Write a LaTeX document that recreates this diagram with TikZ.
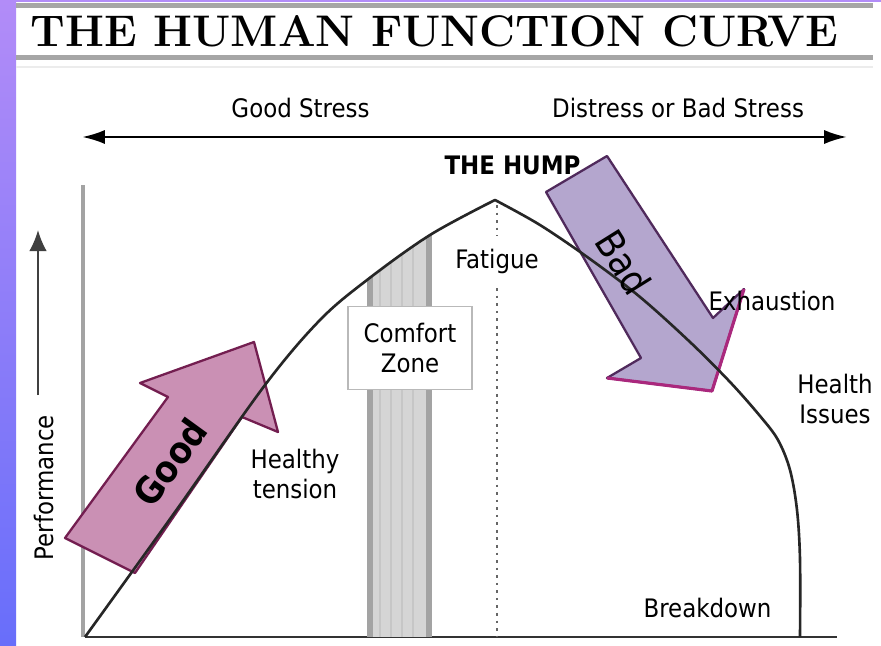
\documentclass[tikz,border=0pt]{standalone}
\usepackage{fontspec}
\newfontfamily\labelfont{DejaVu Sans Condensed}
\usetikzlibrary{arrows.meta}

\definecolor{sidetop}{RGB}{178,140,248}
\definecolor{sidebot}{RGB}{104,110,250}
\definecolor{goodpink}{RGB}{202,144,180}
\definecolor{goodedge}{RGB}{115,30,80}
\definecolor{badlilac}{RGB}{180,166,206}
\definecolor{badedge}{RGB}{80,42,92}
\definecolor{badrim}{RGB}{170,40,125}

\begin{document}
\begin{tikzpicture}[x=0.02cm, y=-0.02cm,
    lbl/.style={font=\labelfont\fontsize{14.5}{17.5}\selectfont, align=center, inner sep=0pt},
    whitebox/.style={lbl, fill=white},
    bigword/.style={font=\labelfont\bfseries\fontsize{21}{24}\selectfont, inner sep=0pt}]
    \useasboundingbox (0,0) rectangle (881,645);
    % Frame and title
    \fill[white] (0,0) rectangle (881,645);
    \shade[top color=sidetop, bottom color=sidebot] (0,0) rectangle (16,645);
    \fill[sidetop] (0,0) rectangle (881,2);
    \draw[gray!70, line width=2.4pt] (16,5.5) -- (873,5.5);
    \draw[gray!70, line width=3pt] (16,57.5) -- (873,57.5);
    \draw[gray!15, line width=0.6pt] (16,67) -- (873,67);
    \node[font=\bfseries\fontsize{25.2}{28}\selectfont\addfontfeature{FakeBold=4}] (title) at (434.5,31) {THE HUMAN FUNCTION CURVE};

    % Stress scale
    \coordinate (stressL) at (82,137);
    \coordinate (stressR) at (847,137);
    \draw[line width=1.4pt, {Latex[length=13pt,width=8pt]}-{Latex[length=13pt,width=8pt]}] (stressL) -- (stressR);
    \node[lbl, anchor=base] (goodstress) at (300.5,118) {Good Stress};
    \node[lbl, anchor=base] (badstress) at (678,118) {Distress or Bad Stress};

    % Axes
    \coordinate (origin) at (85,637);
    \coordinate (ybot) at (83,637);
    \coordinate (ytop) at (83,185);
    \coordinate (xend) at (837,637);
    \draw[gray!72, line width=2pt] (ybot) -- (ytop);
    \draw[black!80, line width=1.4pt] (origin) -- (xend);
    \coordinate (perfB) at (38,395);
    \coordinate (perfT) at (38,230);
    \draw[black!75, line width=1.1pt, -{Latex[length=12pt,width=10pt]}] (perfB) -- (perfT);
    \node[lbl, rotate=90, anchor=base] (perf) at (53,487.5) {Performance};

    % Comfort zone bar
    \begin{scope}
        \clip (367,637) -- (367,280) -- (432,233) -- (432,637) -- cycle;
        \fill[gray!33] (367,200) rectangle (432,637);
        \foreach \x in {380,391,402,413}
            \draw[gray!45, line width=0.8pt] (\x,200) -- (\x,637);
        \draw[gray!72, line width=3.4pt] (370,200) -- (370,637);
        \draw[gray!72, line width=3.4pt] (429,200) -- (429,637);
    \end{scope}

    % Peak line
    \coordinate (peaktop) at (497,205);
    \coordinate (peakfoot) at (497,637);
    \draw[black!60, line width=1.5pt, dash pattern=on 1.5pt off 2.8pt] (peaktop) -- (peakfoot);

    % Boxed labels
    \node[whitebox, minimum width=2.3cm, minimum height=1cm] (fatigue) at (497,261) {Fatigue};
    \node[whitebox, draw=gray!55, line width=0.9pt, minimum width=2.48cm, minimum height=1.66cm] (comfort) at (410,348) {Comfort\\Zone};
    \node[whitebox, font=\labelfont\bfseries\fontsize{14.5}{17.5}\selectfont, minimum width=3.38cm, minimum height=1cm] (hump) at (512.5,165) {THE HUMP};

    % Good and bad arrows
    \filldraw[fill=goodpink, draw=goodedge, line width=1.3pt, line join=round]
        (65,538) -- (135,573) -- (242,417) -- (278,432) -- (254,342) -- (140,383) -- (168,397) -- cycle;
    \filldraw[fill=badlilac, draw=badedge, line width=1.3pt, line join=round]
        (546,192) -- (607,156) -- (713,318) -- (744,289) -- (712,391) -- (607,378) -- (641,358) -- cycle;
    \draw[badrim, line width=1.8pt, line join=round] (607,378) -- (712,391) -- (744,289);

    % Curve
    \draw[black!85, line width=1.5pt, line join=round]
        plot[smooth, tension=0.55] coordinates {(85,637) (175,512) (265,385) (320,320) (367,280) (430,235) (495,200)}
        -- plot[smooth, tension=0.55] coordinates {(495,200) (540,225) (590,259) (640,297) (690,342) (730,382) (760,416) (778,440) (790,470) (797,510) (800,560) (800,637)};

    % Words on arrows
    \node[bigword, rotate=54] (good) at (170,462) {Good};
    \node[bigword, font=\labelfont\fontsize{22}{24}\selectfont, rotate=-58] (bad) at (624,262) {Bad};

    % Other labels
    \node[lbl] (healthy) at (295,474) {Healthy\\tension};
    \node[lbl, anchor=base] (exhaust) at (772,310) {Exhaustion};
    \node[lbl] (health) at (835,399) {Health\\Issues};
    \node[lbl, anchor=base] (breakdown) at (707.5,617) {Breakdown};
\end{tikzpicture}
\end{document}
